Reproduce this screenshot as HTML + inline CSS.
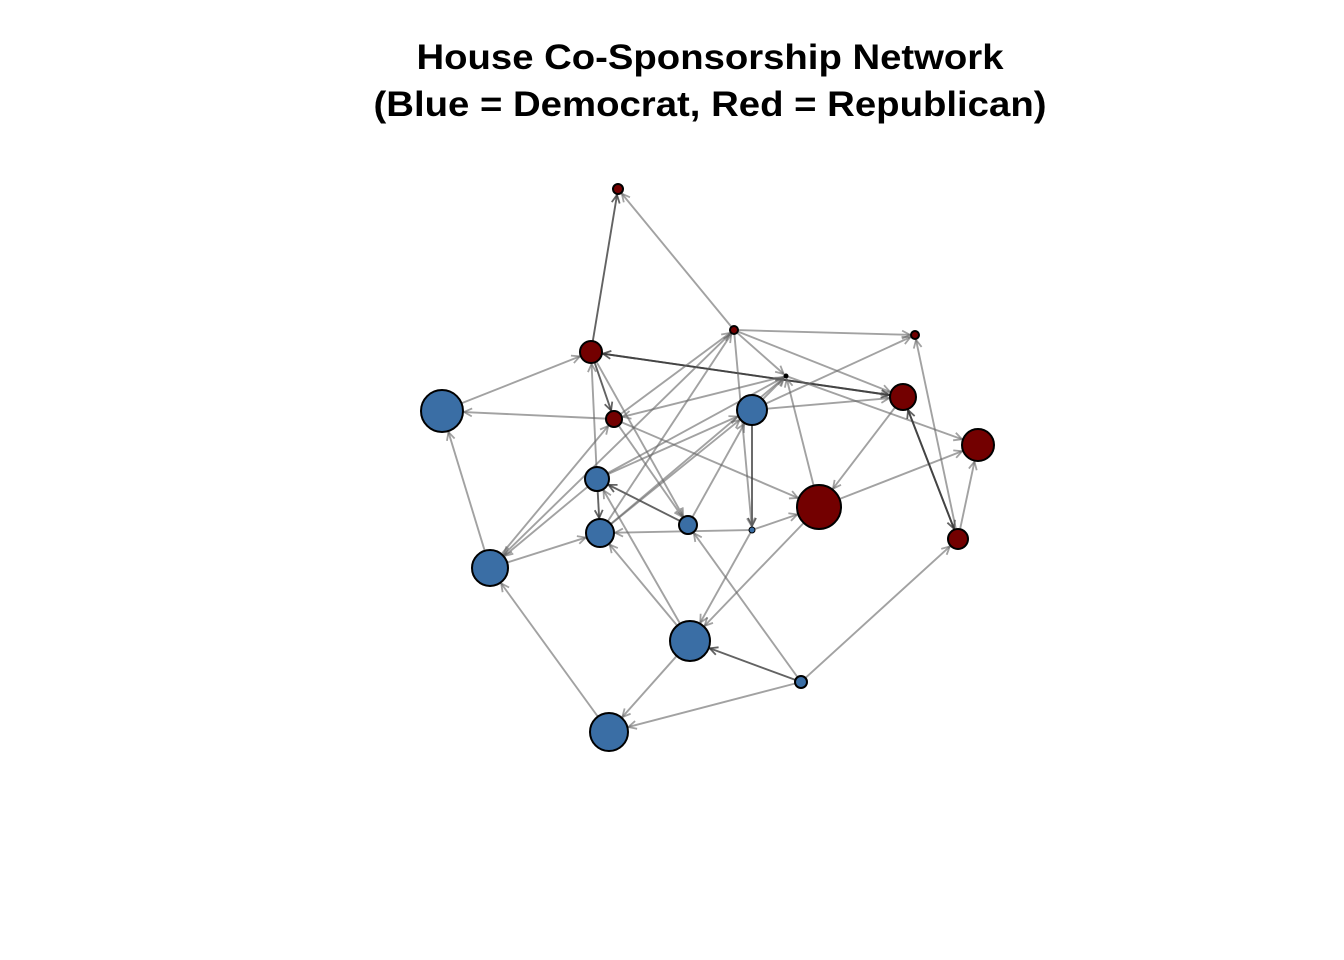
<!DOCTYPE html>
<html><head><meta charset="utf-8"><style>
html,body{margin:0;padding:0;background:#fff;}
svg{display:block;}
</style></head><body>
<svg id="s" width="1344" height="960" xmlns="http://www.w3.org/2000/svg">
<text x="710" y="69" font-family="Liberation Sans, sans-serif" font-weight="bold" font-size="35" text-anchor="middle" textLength="587" lengthAdjust="spacingAndGlyphs">House Co-Sponsorship Network</text>
<text x="710" y="116" font-family="Liberation Sans, sans-serif" font-weight="bold" font-size="35" text-anchor="middle" textLength="673" lengthAdjust="spacingAndGlyphs">(Blue = Democrat, Red = Republican)</text>
<g id="e"></g><g id="n"></g>
</svg>
<script>
var B='#3a6ea5',R='#730000';
var N={A:[618,189,5,R],B:[734,330,4,R],C:[915,335,4,R],D:[591,352,11,R],E:[786,376,2,'#000'],F:[442,411,21,B],G:[614,419,8,R],H:[752,410,15,B],I:[903,397,13,R],J:[978,445,16,R],K:[597,479,12,B],L:[819,507,22,R],M:[600,533,14,B],N:[688,525,9,B],O:[752,530,3,B],P:[958,539,10,R],Q:[490,568,18,B],RR:[690,641,20,B],S:[801,682,6,B],T:[609,732,19,B]};
var E=[['D','A',1],['B','A'],['F','D'],['G','F'],['I','D',1],['D','I',1],['D','G',1],['D','N'],['K','D'],['G','N'],['G','L'],['G','B'],['E','G'],['K','H'],['M','H'],['Q','G'],['H','E'],['H','I'],['H','O',1],['N','H'],['B','O'],['B','C'],['B','E'],['B','I'],['E','J'],['L','E'],['I','L'],['L','J'],['L','RR'],['O','RR'],['O','L'],['O','M'],['P','I',1],['I','P',1],['P','J'],['P','C'],['S','P'],['S','RR',1],['S','N'],['S','T'],['RR','T'],['RR','M'],['RR','K'],['T','Q'],['Q','F'],['Q','M'],['K','M',1],['N','K',1],['K','Q'],['B','Q'],['M','B'],['H','C'],['K','E'],['M','E']];
var ge=document.getElementById('e'),gn=document.getElementById('n'),h='';
E.forEach(function(e){var a=N[e[0]],b=N[e[1]];var dx=b[0]-a[0],dy=b[1]-a[1],L=Math.hypot(dx,dy),ux=dx/L,uy=dy/L;
var x1=a[0]+ux*a[2],y1=a[1]+uy*a[2],x2=b[0]-ux*(b[2]+1),y2=b[1]-uy*(b[2]+1);
var c=e[2]?'rgba(60,60,60,0.8)':'rgba(100,100,100,0.6)';
h+='<line x1="'+x1+'" y1="'+y1+'" x2="'+x2+'" y2="'+y2+'" stroke="'+c+'" stroke-width="1.9"/>';
var s=8,w=4,px=-uy,py=ux;
h+='<polyline points="'+(x2-ux*s+px*w)+','+(y2-uy*s+py*w)+' '+x2+','+y2+' '+(x2-ux*s-px*w)+','+(y2-uy*s-py*w)+'" fill="none" stroke="'+c+'" stroke-width="1.8"/>';});
ge.innerHTML=h;h='';
for(var k in N){var n=N[k];h+='<circle cx="'+n[0]+'" cy="'+n[1]+'" r="'+n[2]+'" fill="'+n[3]+'" stroke="#000" stroke-width="'+(n[2]<4?1:2)+'"/>';}
gn.innerHTML=h;
</script>
</body></html>
